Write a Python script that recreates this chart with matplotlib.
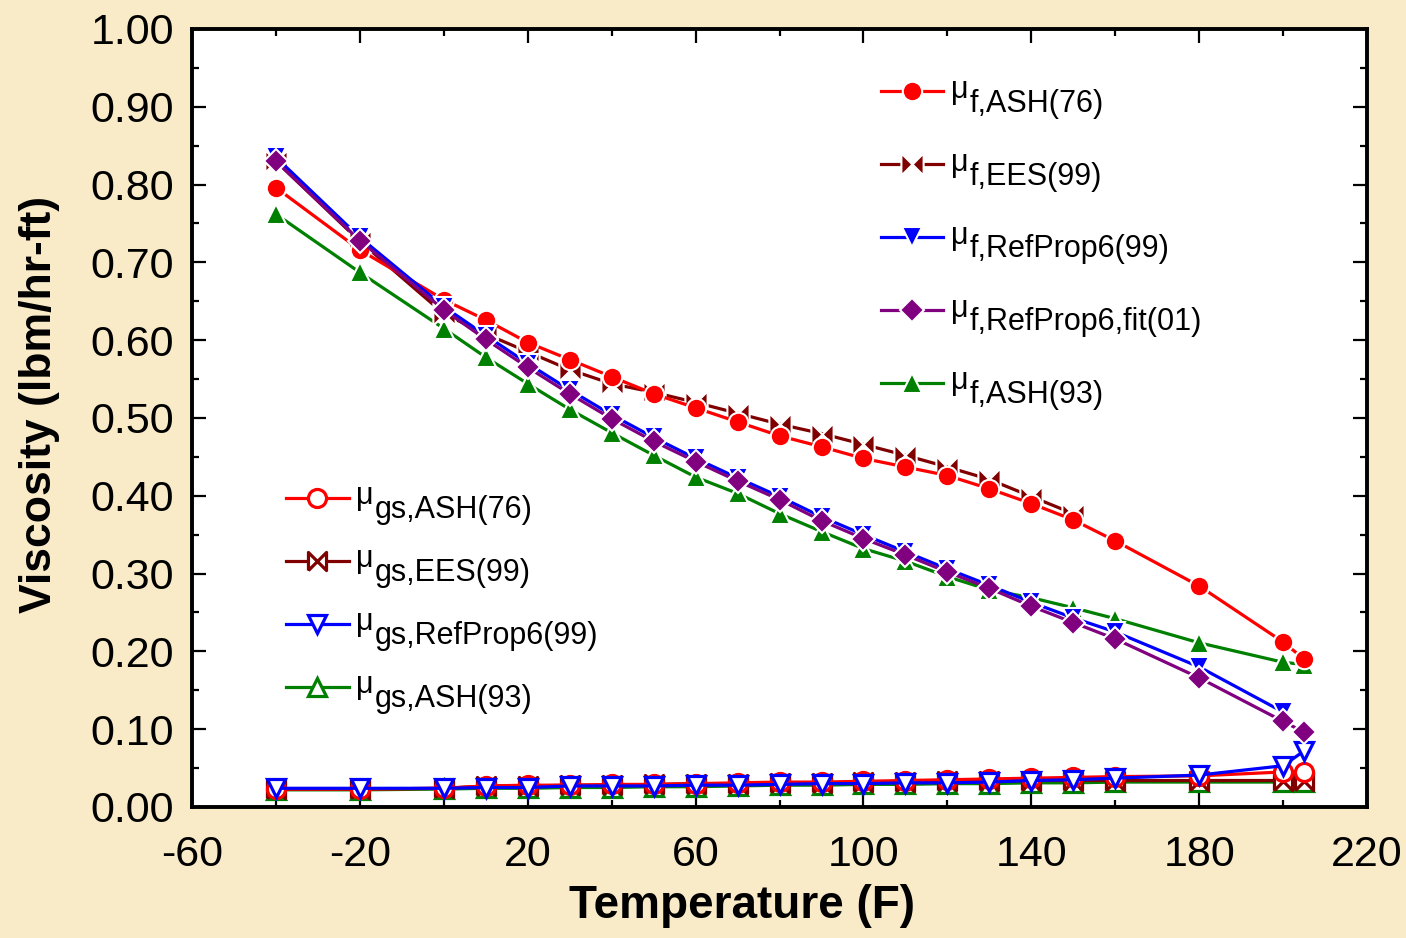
import matplotlib
matplotlib.use("Agg")
import matplotlib.pyplot as plt
from matplotlib.legend_handler import HandlerLine2D
from matplotlib.ticker import MultipleLocator, FormatStrFormatter

plt.rcParams['font.family'] = ['Liberation Sans', 'DejaVu Sans']
plt.rcParams['axes.unicode_minus'] = False

# ---------------- DATA ---------------- #
temp = [-40, -20, 0, 10, 20, 30, 40, 50, 60, 70, 80, 90, 100, 110, 120,
        130, 140, 150, 160, 180, 200, 205]
temp_ees_f = temp[:18]        # EES liquid stops at 150 F
temp_rp_f = temp[:21]         # RefProp6 liquid stops at 200 F

mu_f_ash76 = [0.796, 0.716, 0.652, 0.626, 0.597, 0.575, 0.553, 0.531, 0.513, 0.495, 0.477,
              0.463, 0.448, 0.437, 0.426, 0.409, 0.390, 0.369, 0.342, 0.284, 0.212, 0.190]
mu_f_ees99 = [0.830, 0.727, 0.634, 0.608, 0.585, 0.562, 0.544, 0.533, 0.520, 0.506, 0.492,
              0.480, 0.466, 0.452, 0.437, 0.421, 0.399, 0.377]
mu_f_rp99 = [0.835, 0.732, 0.643, 0.606, 0.570, 0.536, 0.504, 0.475, 0.448, 0.423, 0.399,
             0.373, 0.350, 0.328, 0.306, 0.285, 0.263, 0.243, 0.225, 0.180, 0.122]
mu_f_rpfit01 = [0.830, 0.728, 0.639, 0.601, 0.565, 0.531, 0.499, 0.470, 0.444, 0.419, 0.395,
                0.368, 0.345, 0.324, 0.302, 0.281, 0.258, 0.237, 0.216, 0.166, 0.110, 0.096]
mu_f_ash93 = [0.762, 0.687, 0.615, 0.578, 0.544, 0.511, 0.481, 0.452, 0.424, 0.403, 0.377,
              0.354, 0.332, 0.316, 0.296, 0.279, 0.269, 0.256, 0.242, 0.211, 0.186, 0.183]

mu_gs_ash76 = [0.023, 0.023, 0.024, 0.027, 0.028, 0.028, 0.029, 0.029, 0.030, 0.031, 0.032,
               0.032, 0.033, 0.034, 0.035, 0.036, 0.037, 0.038, 0.039, 0.040, 0.045, 0.045]
mu_gs_ees99 = [0.023, 0.023, 0.024, 0.027, 0.027, 0.028, 0.028, 0.029, 0.030, 0.030, 0.031,
               0.031, 0.032, 0.032, 0.033, 0.033, 0.034, 0.034, 0.034, 0.034, 0.034, 0.034]
mu_gs_rp99 = [0.024, 0.024, 0.024, 0.025, 0.025, 0.027, 0.027, 0.027, 0.028, 0.028, 0.029,
              0.030, 0.030, 0.031, 0.031, 0.032, 0.034, 0.035, 0.037, 0.041, 0.053, 0.072]
mu_gs_ash93 = [0.022, 0.022, 0.023, 0.024, 0.024, 0.025, 0.025, 0.026, 0.026, 0.027, 0.028,
               0.028, 0.029, 0.029, 0.030, 0.030, 0.031, 0.031, 0.032, 0.032, 0.032, 0.032]

x_ticks = [-60, -20, 20, 60, 100, 140, 180, 220]

liq_labels = ['f,ASH(76)', 'f,EES(99)', 'f,RefProp6(99)', 'f,RefProp6,fit(01)', 'f,ASH(93)']
gas_labels = ['gs,ASH(76)', 'gs,EES(99)', 'gs,RefProp6(99)', 'gs,ASH(93)']

# ---------------- STYLE ---------------- #
RED, DKRED, BLUE, PURPLE, GREEN = '#ff0000', '#800000', '#0000ff', '#800080', '#008000'
BOWTIE = [(-1, -1), (-1, 1), (1, -1), (1, 1), (-1, -1)]
LW = 2.3
LEG_FS = 22

fig = plt.figure(figsize=(14.06, 9.38), dpi=100, facecolor='#f9eac8')
ax = fig.add_axes([0.1366, 0.1397, 0.8357, 0.8294])
ax.set_facecolor('white')

filled = dict(lw=LW, mec='white', mew=1.5)
hollow = dict(lw=LW, ms=13, mfc='white', mew=2.3)

# gas phase
l_g93, = ax.plot(temp, mu_gs_ash93, color=GREEN, marker='^', mec=GREEN, **hollow)
l_gees, = ax.plot(temp, mu_gs_ees99, color=DKRED, marker=BOWTIE, mec=DKRED, **hollow)
l_g76, = ax.plot(temp, mu_gs_ash76, color=RED, marker='o', mec=RED, **hollow)
l_grp, = ax.plot(temp, mu_gs_rp99, color=BLUE, marker='v', mec=BLUE, **hollow)

# liquid phase
l_f93, = ax.plot(temp, mu_f_ash93, color=GREEN, marker='^', ms=14, **filled)
l_fees, = ax.plot(temp_ees_f, mu_f_ees99, color=DKRED, marker=BOWTIE, ms=16, **filled)
l_f76, = ax.plot(temp, mu_f_ash76, color=RED, marker='o', ms=14, **filled)
l_frp, = ax.plot(temp_rp_f, mu_f_rp99, color=BLUE, marker='v', ms=14, **filled)
l_ffit, = ax.plot(temp, mu_f_rpfit01, color=PURPLE, marker='D', ms=12.5, **filled)

ax.set_xlim(-60, 220)
ax.set_ylim(0, 1.0)
ax.set_xticks(x_ticks)
ax.xaxis.set_minor_locator(MultipleLocator(20))
ax.yaxis.set_major_locator(MultipleLocator(0.1))
ax.yaxis.set_minor_locator(MultipleLocator(0.05))
ax.yaxis.set_major_formatter(FormatStrFormatter('%.2f'))
ax.tick_params(which='both', direction='in', top=True, right=True, width=1.6, labelsize=31)
ax.tick_params(which='major', length=10)
ax.tick_params(which='minor', length=5)
ax.tick_params(axis='x', pad=20)
ax.tick_params(axis='y', pad=13)
for sp in ax.spines.values():
    sp.set_linewidth(2.8)

ax.set_xlabel('Temperature (F)', weight='bold', size=33)
ax.set_ylabel('Viscosity (lbm/hr-ft)', weight='bold', size=32)
ax.xaxis.set_label_coords(0.468, -0.099)
ax.yaxis.set_label_coords(-0.112, 0.517)

# ---------------- LEGENDS ---------------- #
class RaisedLine(HandlerLine2D):
    # legend line sits at the level of the raised mu
    def create_artists(self, legend, orig_handle, xdescent, ydescent, width, height,
                       fontsize, trans):
        return super().create_artists(legend, orig_handle, xdescent, ydescent - 14,
                                      width, height, fontsize, trans)

liq_handles = [l_f76, l_fees, l_frp, l_ffit, l_f93]
gas_handles = [l_g76, l_gees, l_grp, l_g93]
hmap = {l: RaisedLine() for l in liq_handles + gas_handles}

common = dict(loc='upper left', frameon=False, fontsize=LEG_FS, handlelength=2.05,
              handletextpad=0.85, borderpad=0, borderaxespad=0, handler_map=hmap)
leg1 = ax.legend(liq_handles, liq_labels, bbox_to_anchor=(0.586, 0.923),
                 labelspacing=1.40, **common)
ax.add_artist(leg1)
leg2 = ax.legend(gas_handles, gas_labels, bbox_to_anchor=(0.080, 0.401),
                 labelspacing=1.08, **common)

# raised mu in front of every legend label
for leg in (leg1, leg2):
    for txt in leg.get_texts():
        ax.annotate('μ', xy=(0, 0), xycoords=txt, xytext=(-0.5, 14.8),
                    textcoords='offset points', ha='right', va='baseline',
                    fontsize=LEG_FS, zorder=6)

fig.canvas.draw()
fig.savefig('out.png', dpi=100, facecolor=fig.get_facecolor())
